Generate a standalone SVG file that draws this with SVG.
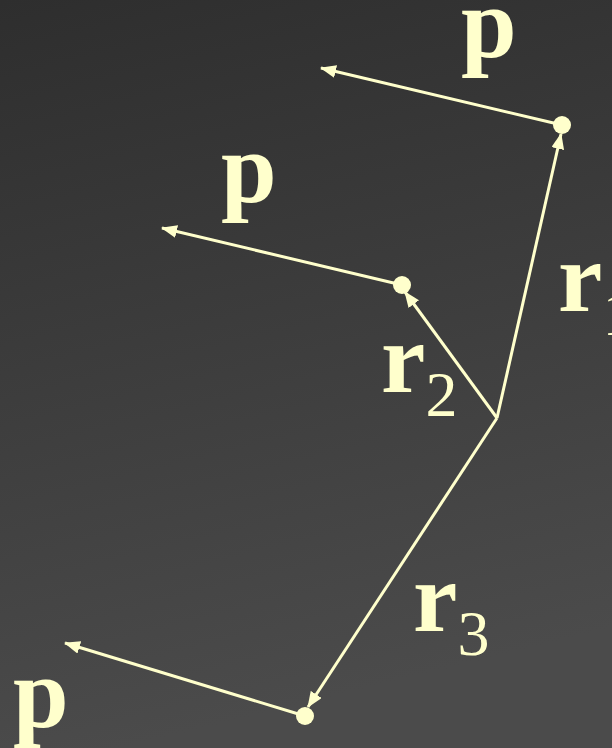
<svg xmlns="http://www.w3.org/2000/svg" width="612" height="748" viewBox="0 0 612 748">
<defs>
<linearGradient id="bg" x1="0" y1="0" x2="0.2" y2="1">
<stop offset="0" stop-color="#2e2e2e"/>
<stop offset="1" stop-color="#4b4b4b"/>
</linearGradient>
<marker id="ah" viewBox="0 0 16 13" refX="15" refY="6.5" markerWidth="16" markerHeight="13" markerUnits="userSpaceOnUse" orient="auto">
<path d="M0,0 L16,6.5 L0,13 z" fill="#ffffcc"/>
</marker>
<style>
.ln{stroke:#ffffcc;stroke-width:3;fill:none;marker-end:url(#ah)}
.dot{fill:#ffffcc}
text{fill:#ffffcc}
</style>
</defs>
<rect width="612" height="748" fill="url(#bg)"/>
<g id="connectors">
<line class="ln" x1="497" y1="418" x2="561" y2="134"/>
<line class="ln" x1="497" y1="418" x2="405" y2="292"/>
<line class="ln" x1="497" y1="418" x2="308" y2="707"/>
<line class="ln" x1="562" y1="125" x2="321" y2="68"/>
<line class="ln" x1="402" y1="285" x2="162" y2="228"/>
<line class="ln" x1="305" y1="716" x2="65" y2="643"/>
</g>
<g id="dot1"><circle class="dot" cx="562" cy="125" r="9"/></g>
<g id="dot2"><circle class="dot" cx="402" cy="285" r="9"/></g>
<g id="dot3"><circle class="dot" cx="305" cy="716" r="9"/></g>
<g font-family="'Times New Roman', Times, 'Liberation Serif', serif" font-weight="bold" font-size="100">
<g id="label-p1"><text x="461" y="57">p</text></g>
<g id="label-p2"><text x="221" y="202">p</text></g>
<g id="label-p3"><text x="13" y="727">p</text></g>
<g id="label-r1"><text x="558" y="311">r<tspan font-weight="normal" font-size="64" dy="24">1</tspan></text></g>
<g id="label-r2"><text x="381" y="392">r<tspan font-weight="normal" font-size="64" dy="24">2</tspan></text></g>
<g id="label-r3"><text x="413" y="631">r<tspan font-weight="normal" font-size="64" dy="24">3</tspan></text></g>
</g>
</svg>
